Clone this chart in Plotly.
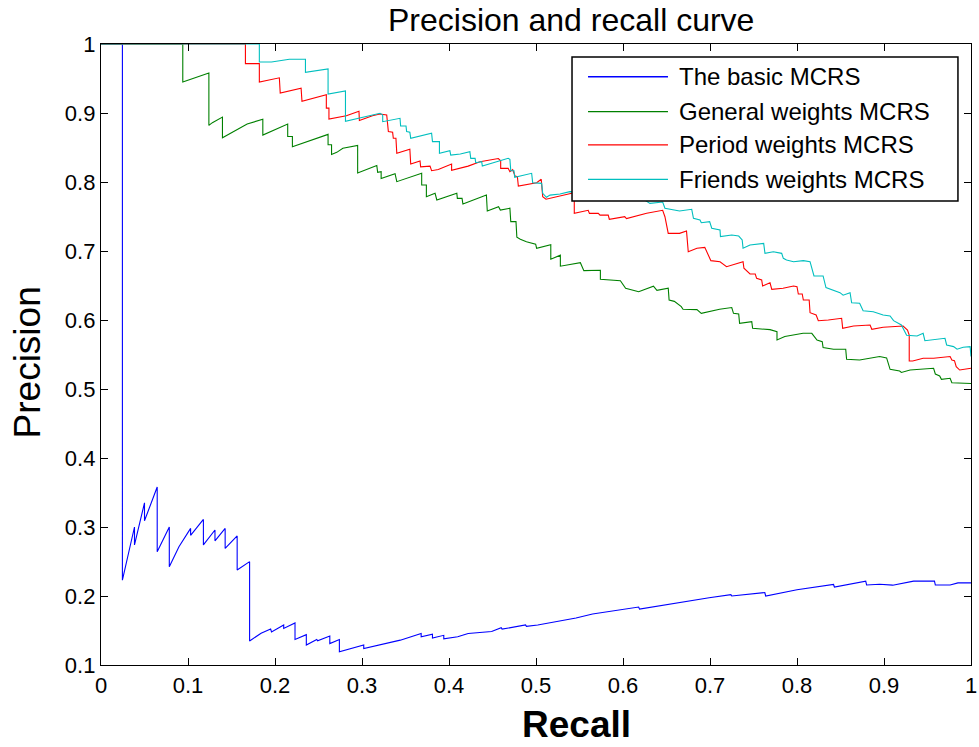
import plotly.graph_objects as go

# ---- data (recall, precision) ----
recall_basic = [0, 0.0246, 0.0246, 0.0385, 0.0385, 0.050, 0.050, 0.0646, 0.0646, 0.0785,
                0.0785, 0.0896, 0.103, 0.103, 0.1177, 0.1177, 0.131, 0.131, 0.1427, 0.1427,
                0.1565, 0.1565, 0.1708, 0.1708, 0.184, 0.195, 0.196, 0.210, 0.210, 0.223,
                0.223, 0.236, 0.236, 0.248, 0.249, 0.263, 0.263, 0.274, 0.274, 0.302,
                0.302, 0.322, 0.344, 0.368, 0.368, 0.381, 0.381, 0.394, 0.394, 0.410,
                0.422, 0.449, 0.460, 0.461, 0.488, 0.489, 0.502, 0.546, 0.565, 0.618,
                0.619, 0.699, 0.724, 0.725, 0.763, 0.764, 0.800, 0.842, 0.843, 0.879,
                0.880, 0.895, 0.910, 0.934, 0.958, 0.959, 0.976, 0.985, 1.0]
precision_basic = [1, 1, 0.223, 0.300, 0.274, 0.335, 0.309, 0.358, 0.264, 0.300,
                   0.2425, 0.2715, 0.298, 0.288, 0.311, 0.274, 0.2957, 0.280, 0.298, 0.269,
                   0.287, 0.2377, 0.2498, 0.1348, 0.146, 0.152, 0.148, 0.158, 0.153, 0.161,
                   0.137, 0.144, 0.129, 0.137, 0.135, 0.142, 0.131, 0.137, 0.119, 0.129,
                   0.124, 0.130, 0.136, 0.1456, 0.141, 0.1446, 0.139, 0.143, 0.138, 0.141,
                   0.1456, 0.1485, 0.154, 0.152, 0.158, 0.156, 0.158, 0.168, 0.174, 0.184,
                   0.181, 0.1975, 0.202, 0.200, 0.205, 0.200, 0.209, 0.2167, 0.213, 0.2216,
                   0.216, 0.217, 0.2157, 0.2216, 0.2216, 0.216, 0.216, 0.219, 0.219]

recall_general = [0, 0.094, 0.094, 0.124, 0.124, 0.128, 0.1396, 0.1396, 0.168, 0.186,
                  0.186, 0.2146, 0.2146, 0.220, 0.220, 0.261, 0.261, 0.265, 0.265, 0.271,
                  0.278, 0.295, 0.295, 0.317, 0.318, 0.322, 0.322, 0.338, 0.340, 0.3686,
                  0.3686, 0.374, 0.374, 0.384, 0.386, 0.409, 0.4096, 0.415, 0.416, 0.443,
                  0.444, 0.457, 0.459, 0.470, 0.471, 0.477, 0.478, 0.482, 0.489, 0.4996,
                  0.5007, 0.517, 0.517, 0.528, 0.528, 0.551, 0.555, 0.574, 0.574, 0.597,
                  0.603, 0.618, 0.635, 0.639, 0.652, 0.653, 0.659, 0.667, 0.669, 0.685,
                  0.690, 0.711, 0.725, 0.727, 0.733, 0.734, 0.748, 0.749, 0.769, 0.777,
                  0.777, 0.786, 0.807, 0.817, 0.823, 0.829, 0.830, 0.842, 0.856, 0.857,
                  0.872, 0.895, 0.903, 0.907, 0.918, 0.920, 0.930, 0.957, 0.959, 0.964,
                  0.966, 0.976, 0.978, 0.987, 1.0]
precision_general = [1, 1, 0.945, 0.958, 0.882, 0.886, 0.894, 0.864, 0.884, 0.891,
                     0.868, 0.884, 0.866, 0.866, 0.851, 0.869, 0.854, 0.854, 0.840, 0.843,
                     0.849, 0.853, 0.813, 0.824, 0.814, 0.815, 0.805, 0.812, 0.8005, 0.8126,
                     0.7957, 0.7957, 0.7787, 0.7836, 0.774, 0.7836, 0.7763, 0.7763, 0.768, 0.781,
                     0.758, 0.7642, 0.7594, 0.762, 0.7425, 0.7425, 0.720, 0.717, 0.7135, 0.710,
                     0.704, 0.709, 0.688, 0.694, 0.678, 0.683, 0.6715, 0.672, 0.659, 0.657,
                     0.646, 0.641, 0.649, 0.643, 0.646, 0.629, 0.627, 0.6193, 0.6155, 0.615,
                     0.6097, 0.6155, 0.618, 0.6097, 0.6087, 0.5952, 0.5976, 0.588, 0.586, 0.583,
                     0.571, 0.576, 0.5807, 0.5807, 0.571, 0.5686, 0.560, 0.5576, 0.5576, 0.543,
                     0.542, 0.547, 0.545, 0.5285, 0.526, 0.524, 0.5275, 0.530, 0.5217, 0.519,
                     0.514, 0.5155, 0.509, 0.509, 0.508]

recall_period = [0, 0.166, 0.166, 0.182, 0.182, 0.205, 0.206, 0.230, 0.231, 0.259,
                 0.259, 0.262, 0.262, 0.282, 0.2965, 0.297, 0.312, 0.3207, 0.3284, 0.3303,
                 0.3352, 0.336, 0.339, 0.340, 0.355, 0.356, 0.3667, 0.3674, 0.3782, 0.380,
                 0.3877, 0.403, 0.403, 0.422, 0.4356, 0.4567, 0.4594, 0.4594, 0.468, 0.470,
                 0.4732, 0.4759, 0.4786, 0.4797, 0.5008, 0.506, 0.5077, 0.5115, 0.541, 0.544,
                 0.544, 0.560, 0.5614, 0.5716, 0.5736, 0.583, 0.5843, 0.602, 0.604, 0.6272,
                 0.6456, 0.6482, 0.652, 0.665, 0.673, 0.675, 0.685, 0.694, 0.701, 0.7115,
                 0.719, 0.733, 0.738, 0.739, 0.746, 0.752, 0.7536, 0.7594, 0.7605, 0.769,
                 0.771, 0.784, 0.796, 0.800, 0.8015, 0.806, 0.8073, 0.814, 0.815, 0.822,
                 0.8245, 0.836, 0.842, 0.8513, 0.8525, 0.865, 0.884, 0.886, 0.899, 0.922,
                 0.927, 0.929, 0.929, 0.933, 0.945, 0.957, 0.976, 0.978, 0.981, 0.983,
                 0.987, 1.0]
precision_period = [1, 1, 0.9715, 0.9715, 0.945, 0.951, 0.929, 0.936, 0.917, 0.9266,
                     0.907, 0.907, 0.8913, 0.896, 0.9024, 0.889, 0.896, 0.8986, 0.8971, 0.873,
                     0.872, 0.8633, 0.8633, 0.8416, 0.8474, 0.826, 0.8304, 0.822, 0.823, 0.8164,
                     0.818, 0.826, 0.817, 0.823, 0.8294, 0.834, 0.8308, 0.8198, 0.8198, 0.815,
                     0.818, 0.8087, 0.8077, 0.794, 0.799, 0.804, 0.7787, 0.775, 0.7836, 0.786,
                     0.7546, 0.759, 0.7546, 0.7546, 0.752, 0.752, 0.746, 0.7497, 0.747, 0.7546,
                     0.759, 0.7497, 0.7256, 0.7256, 0.729, 0.699, 0.704, 0.7053, 0.686, 0.6845,
                     0.6773, 0.682, 0.6845, 0.675, 0.6667, 0.6667, 0.6604, 0.658, 0.6493, 0.654,
                     0.6445, 0.646, 0.6493, 0.6483, 0.6377, 0.6377, 0.629, 0.629, 0.6106, 0.6072,
                     0.599, 0.600, 0.601, 0.6025, 0.588, 0.5913, 0.5928, 0.5865, 0.5894, 0.5913,
                     0.5855, 0.578, 0.5406, 0.5406, 0.5445, 0.5445, 0.547, 0.542, 0.541, 0.5323,
                     0.5275, 0.530]

recall_friends = [0, 0.182, 0.182, 0.196, 0.2165, 0.235, 0.235, 0.261, 0.261, 0.281,
                  0.281, 0.3207, 0.3238, 0.3238, 0.3437, 0.3444, 0.3506, 0.3513, 0.355, 0.356,
                  0.380, 0.381, 0.389, 0.389, 0.401, 0.402, 0.413, 0.424, 0.425, 0.430,
                  0.4307, 0.4376, 0.4383, 0.468, 0.470, 0.471, 0.4747, 0.4755, 0.495, 0.4962,
                  0.5065, 0.5077, 0.512, 0.5161, 0.5276, 0.539, 0.560, 0.590, 0.620, 0.631,
                  0.6456, 0.6482, 0.665, 0.679, 0.681, 0.6885, 0.690, 0.6996, 0.702, 0.7115,
                  0.712, 0.725, 0.733, 0.737, 0.738, 0.746, 0.7617, 0.7632, 0.7728, 0.7824,
                  0.7843, 0.788, 0.796, 0.8073, 0.815, 0.8195, 0.830, 0.8333, 0.842, 0.8494,
                  0.853, 0.861, 0.8628, 0.872, 0.876, 0.8877, 0.899, 0.907, 0.911, 0.920,
                  0.926, 0.938, 0.945, 0.947, 0.9701, 0.972, 0.980, 0.984, 0.991, 0.999,
                  1.0]
precision_friends = [1, 1, 0.974, 0.974, 0.978, 0.978, 0.959, 0.964, 0.9275, 0.932,
                     0.888, 0.8996, 0.8971, 0.8874, 0.8923, 0.8812, 0.8812, 0.873, 0.872, 0.8633,
                     0.8706, 0.8585, 0.8585, 0.8416, 0.8455, 0.839, 0.8406, 0.844, 0.8343, 0.8343,
                     0.828, 0.8294, 0.8232, 0.8343, 0.8328, 0.8164, 0.8164, 0.8068, 0.8126, 0.799,
                     0.798, 0.7836, 0.7778, 0.781, 0.7826, 0.786, 0.785, 0.782, 0.778, 0.769,
                     0.771, 0.762, 0.758, 0.7604, 0.7473, 0.745, 0.741, 0.7425, 0.733, 0.7304,
                     0.7208, 0.7232, 0.7217, 0.716, 0.704, 0.7087, 0.711, 0.6966, 0.699, 0.6966,
                     0.6894, 0.687, 0.6845, 0.686, 0.6845, 0.6638, 0.6638, 0.647, 0.6435, 0.6396,
                     0.636, 0.6396, 0.625, 0.6242, 0.6135, 0.612, 0.6072, 0.6058, 0.599, 0.5928,
                     0.578, 0.5768, 0.5807, 0.570, 0.5735, 0.5638, 0.5614, 0.5576, 0.5604, 0.5614,
                     0.547]

series_names = ["The basic MCRS", "General weights MCRS", "Period weights MCRS", "Friends weights MCRS"]
series_colors = ["#0000FF", "#008000", "#FF0000", "#00BFBF"]
x_ticks = [0, 0.1, 0.2, 0.3, 0.4, 0.5, 0.6, 0.7, 0.8, 0.9, 1]
x_tick_labels = ["0", "0.1", "0.2", "0.3", "0.4", "0.5", "0.6", "0.7", "0.8", "0.9", "1"]
y_ticks = [0.1, 0.2, 0.3, 0.4, 0.5, 0.6, 0.7, 0.8, 0.9, 1]
y_tick_labels = ["0.1", "0.2", "0.3", "0.4", "0.5", "0.6", "0.7", "0.8", "0.9", "1"]

FONT = "Liberation Sans, Arial, Helvetica, sans-serif"

fig = go.Figure()
series = [(recall_basic, precision_basic), (recall_general, precision_general),
          (recall_period, precision_period), (recall_friends, precision_friends)]
for (xs, ys), name, col in zip(series, series_names, series_colors):
    fig.add_trace(go.Scatter(x=xs, y=ys, mode="lines", name=name, showlegend=False,
                             line=dict(color=col, width=1.1)))

axis_common = dict(showline=True, linecolor="black", linewidth=1.3, mirror="ticks",
                   ticks="inside", ticklen=7, tickwidth=1, tickcolor="black",
                   showgrid=False, zeroline=False, automargin=False,
                   tickfont=dict(family=FONT, size=22, color="black"))

fig.update_xaxes(range=[0, 1], tickvals=x_ticks, ticktext=x_tick_labels, **axis_common)
fig.update_yaxes(range=[0.1, 1], tickvals=y_ticks, ticktext=y_tick_labels, **axis_common)

# ---- legend box (drawn in paper coordinates, above the curves) ----
leg_x0, leg_x1, leg_y0, leg_y1 = 0.5414, 0.985, 0.7472, 0.979
line_x0, line_x1, text_x = 0.5598, 0.6517, 0.6621
row_y = [0.9473, 0.891, 0.8374, 0.7821]

shapes = [dict(type="rect", xref="paper", yref="paper", x0=leg_x0, x1=leg_x1,
               y0=leg_y0, y1=leg_y1, fillcolor="white",
               line=dict(color="black", width=1.5), layer="above")]
annotations = []
for name, col, ry in zip(series_names, series_colors, row_y):
    shapes.append(dict(type="line", xref="paper", yref="paper", x0=line_x0, x1=line_x1,
                       y0=ry, y1=ry, line=dict(color=col, width=1.3), layer="above"))
    annotations.append(dict(text=name, xref="paper", yref="paper", x=text_x, y=ry,
                            xanchor="left", yanchor="middle", showarrow=False,
                            font=dict(family=FONT, size=24, color="black")))

annotations += [
    dict(text="Precision and recall curve", xref="paper", yref="paper",
         x=0.540, y=1.038, xanchor="center", yanchor="middle", showarrow=False,
         font=dict(family=FONT, size=32, color="black")),
    dict(text="<b>Recall</b>", xref="paper", yref="paper",
         x=0.546, y=-0.0966, xanchor="center", yanchor="middle", showarrow=False,
         font=dict(family=FONT, size=37, color="black")),
    dict(text="Precision", xref="paper", yref="paper", textangle=-90,
         x=-0.0845, y=0.488, xanchor="center", yanchor="middle", showarrow=False,
         font=dict(family=FONT, size=37, color="black")),
]

fig.update_layout(
    width=979, height=747,
    margin=dict(l=101, r=8, t=44, b=82),
    paper_bgcolor="white", plot_bgcolor="white",
    font=dict(family=FONT, color="black"),
    showlegend=False,
    shapes=shapes,
    annotations=annotations,
)

fig.write_html("out.html")
